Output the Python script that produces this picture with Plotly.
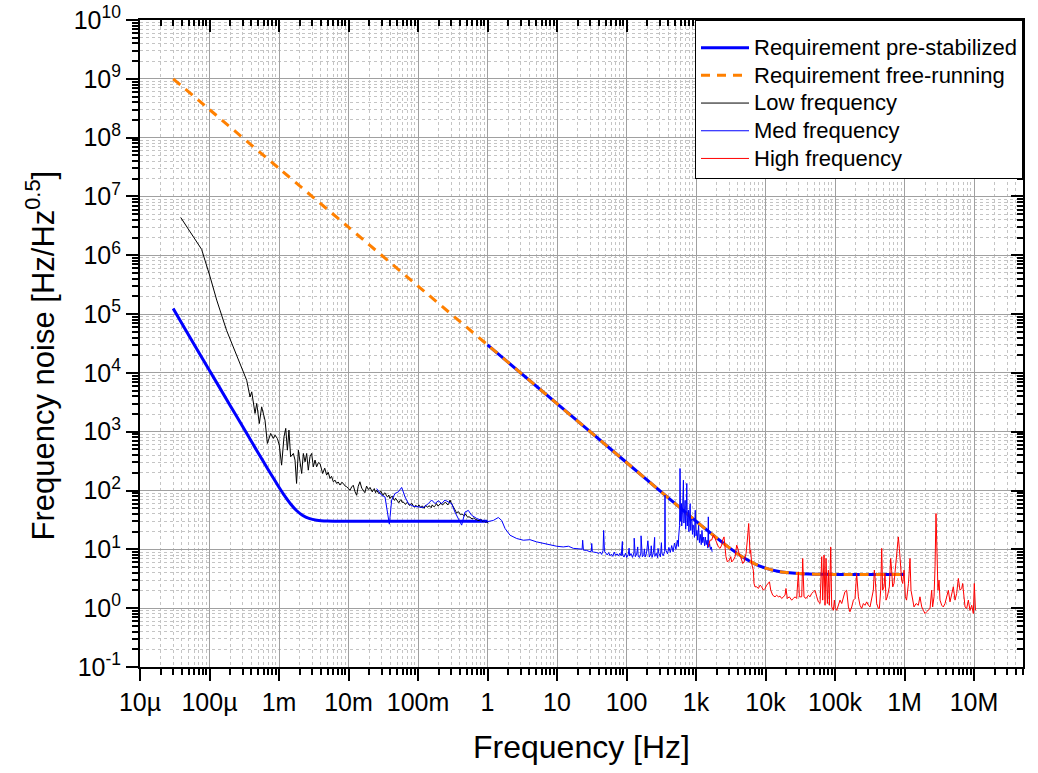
import plotly.graph_objects as go

# ---------------- data ----------------
req_pre_f = [3e-5, 5e-5, 1e-4, 2e-4, 3e-4, 5e-4, 7e-4, 1e-3, 1.2e-3, 1.5e-3, 1.8e-3,
             2.2e-3, 2.7e-3, 3.5e-3, 5e-3, 7e-3, 1e-2, 1e-1, 1.0,
             None,
             1.0, 10, 100, 300, 600, 1000, 1500, 2000, 3000, 4000, 5000, 7000,
             1e4, 1.5e4, 2e4, 3e4, 5e4, 1e5, 1e6]
req_pre_v = [1.25e5, 4.4e4, 1.1e4, 2750, 1222, 440, 226, 114, 82.1, 57.4, 45.3,
             37.6, 33.6, 31.3, 30.3, 30.1, 30, 30, 30,
             None,
             3e4, 3000, 300, 100, 50.1, 30.2, 20.35, 15.5, 10.7, 8.38, 7.07, 5.69,
             4.8, 4.24, 4.03, 3.87, 3.79, 3.75, 3.74]

req_free_f = [3e-5, 1e-4, 1e-3, 1e-2, 1e-1, 1.0, 10, 100, 300, 600, 1000, 1500, 2000,
              3000, 4000, 5000, 7000, 1e4, 1.5e4, 2e4, 3e4, 5e4, 1e5, 1e6]
req_free_v = [1e9, 3e8, 3e7, 3e6, 3e5, 3e4, 3000, 300, 100, 50.1, 30.2, 20.35, 15.5,
              10.7, 8.38, 7.07, 5.69, 4.8, 4.24, 4.03, 3.87, 3.79, 3.75, 3.74]

low_f = [3.85e-5, 7.7e-5, 1.02e-4, 1.27e-4, 1.76e-4, 2.75e-4, 3.43e-4, 3.83e-4,
         4.05e-4, 4.52e-4, 4.78e-4, 5.21e-4, 5.63e-4, 6.29e-4, 6.8e-4, 7.59e-4,
         8.28e-4, 8.75e-4, 9.46e-4, 1.01e-3, 1.09e-3, 1.18e-3, 1.25e-3, 1.32e-3,
         1.39e-3, 1.47e-3, 1.61e-3, 1.70e-3, 1.79e-3, 1.90e-3, 2.0e-3, 2.12e-3,
         2.24e-3, 2.37e-3, 2.5e-3, 2.64e-3, 2.79e-3, 2.95e-3, 3.12e-3, 3.3e-3,
         3.48e-3, 3.7e-3, 3.89e-3, 4.05e-3, 4.25e-3, 4.55e-3, 4.85e-3, 5.1e-3,
         5.42e-3, 5.7e-3, 6.05e-3, 6.4e-3, 6.76e-3, 7.1e-3, 7.55e-3, 8.0e-3,
         8.42e-3, 8.9e-3, 9.4e-3, 1.0e-2, 1.05e-2, 1.11e-2, 1.17e-2, 1.24e-2,
         1.31e-2, 1.38e-2, 1.46e-2, 1.55e-2, 1.63e-2, 1.72e-2, 1.82e-2, 1.93e-2,
         2.04e-2, 2.12e-2, 2.2e-2, 2.28e-2, 2.35e-2, 2.45e-2, 2.54e-2, 2.65e-2,
         2.75e-2, 2.85e-2, 2.95e-2, 3.06e-2, 3.17e-2, 3.28e-2, 3.4e-2, 3.52e-2,
         3.65e-2, 3.8e-2, 3.95e-2, 4.1e-2, 4.3e-2, 4.45e-2, 4.6e-2, 4.75e-2,
         4.93e-2, 5.1e-2, 5.3e-2, 5.5e-2, 5.7e-2, 5.9e-2, 6.15e-2, 6.4e-2,
         6.6e-2, 6.85e-2, 7.1e-2, 7.4e-2, 7.67e-2, 7.9e-2, 8.2e-2, 8.55e-2,
         8.9e-2, 9.2e-2, 9.57e-2, 0.099, 0.103, 0.107, 0.11, 0.115, 0.119, 0.123,
         0.128, 0.133, 0.138, 0.143, 0.149, 0.155, 0.16, 0.166, 0.172, 0.178,
         0.185, 0.192, 0.2, 0.207, 0.215, 0.223, 0.231, 0.24, 0.25, 0.26, 0.27,
         0.28, 0.289, 0.297, 0.305, 0.313, 0.322, 0.331, 0.34, 0.35, 0.36, 0.37,
         0.38, 0.395, 0.41, 0.43, 0.449, 0.465, 0.48, 0.5, 0.52, 0.54, 0.56, 0.58,
         0.6, 0.625, 0.65, 0.675, 0.70, 0.73, 0.76, 0.79, 0.82, 0.845, 0.87, 0.9,
         0.94, 0.98, 1.03]
low_v = [4.4e6, 1.26e6, 4.3e5, 1.73e5, 5.3e4, 1.45e4, 7.5e3, 3.9e3,
         4770, 2050, 3030, 1380, 2650, 1570, 632, 935,
         769, 876, 769, 592, 270, 820, 1140, 486,
         1065, 375, 427, 329, 132, 486, 329, 195,
         427, 308, 427, 222, 375, 427, 253, 330,
         253, 300, 288, 230, 195, 240, 183, 205,
         160, 175, 141, 150, 132, 140, 124, 138,
         132, 120, 116, 108, 101, 115, 123, 96,
         83, 118, 141, 110, 101, 92, 119, 104,
         113, 99, 95, 104, 108, 92, 101, 94,
         88, 95, 97, 86, 83, 91, 90, 81,
         78, 84, 73, 78, 80, 71, 68, 74,
         69, 65, 62, 67, 70, 63, 64, 60,
         58, 62, 63, 57, 56, 59, 60, 55,
         52, 56, 54, 53, 57, 54, 51, 55, 53, 50,
         56, 53, 52, 55, 54, 51, 57, 54, 53, 56,
         60, 55, 56, 59, 61, 57, 58, 62, 63, 59, 57,
         61, 69, 63, 60, 56, 53, 49, 47, 44, 41, 43,
         44, 41, 39, 40, 38, 37, 40, 37, 35, 36, 35, 34,
         33, 34, 34, 32, 32, 31, 31, 32, 32, 30, 30.5, 30,
         29, 29.5, 28]

med_f = [2.54e-2, 3.0e-2, 3.35e-2, 3.87e-2, 4.18e-2, 4.67e-2, 5.21e-2, 5.82e-2,
         6.5e-2, 7.26e-2, 8.57e-2, 0.101, 0.119, 0.141, 0.157, 0.176, 0.196,
         0.219, 0.244, 0.273, 0.305, 0.34, 0.38, 0.425, 0.474, 0.53, 0.59, 0.70,
         0.82, 0.97, 1.21, 1.43, 1.60, 1.79, 2.11, 2.63, 3.28, 4.09, 5.1, 6.35,
         7.9, 9.9, 12.3, 14.6, 17.2, 19.5, 21.4, 23.0, 23.4, 24.0, 26.8, 29.8,
         31.2, 31.6, 32.2, 33.5, 37.4, 40, 41.9, 43.9, 46, 46.9, 48.2, 50.5,
         52.9, 55.4, 58, 60.7, 63.6, 66.6, 69.8, 73.1, 76.6, 80.2, 84, 87.2, 88,
         92.2, 96.6, 101, 106, 109, 111, 116, 122, 128, 129, 134, 140, 145, 147,
         154, 161, 162, 169, 177, 181, 185, 194, 203, 213, 223, 227, 233, 244,
         254, 256, 268, 281, 284, 294, 308, 318, 323, 338, 354, 358, 362, 371,
         389, 407, 427, 447, 468, 490, 514, 538, 557, 563, 580, 589, 600, 618,
         623, 640, 659, 670, 680, 697, 710, 720, 737, 750, 760, 779, 790, 800,
         824, 840, 850, 872, 890, 900, 922, 950, 975, 1000, 1031, 1060, 1090,
         1120, 1153, 1190, 1219, 1250, 1289, 1330, 1363, 1400, 1442, 1480, 1504,
         1525, 1570, 1613, 1660, 1705]
med_v = [108, 83, 78, 26.8, 69, 89, 95, 113,
         78, 60, 54, 53, 51.5, 60, 69, 60, 67,
         60, 69, 64, 60, 43, 33.5, 25.8, 43, 46, 38, 33.5,
         31.3, 29.4, 31, 34.8, 31, 22.6, 17.4, 15.3, 14.3, 14.6, 13.4, 12.6,
         11.8, 11.3, 11.0, 11.3, 10.4, 10.2, 10.0, 10.1, 14.3, 9.7, 9.6, 9.1,
         9.3, 12.6, 9.2, 9.0, 8.8, 8.5, 9.0, 8.2, 9.5, 21, 9.3, 8.4,
         8.0, 8.8, 7.8, 8.3, 7.6, 9.0, 7.9, 8.4, 7.7, 8.6, 7.8, 13.6, 8.0,
         7.4, 8.6, 7.3, 8.2, 10.5, 7.7, 8.5, 7.3, 8.8, 15.5, 7.5, 8.3, 11.0, 7.6,
         7.3, 8.7, 17.0, 7.5, 8.1, 10.2, 7.4, 8.6, 14.0, 7.4, 8.4, 11.5, 7.3, 8.8,
         16.0, 7.6, 8.6, 7.2, 10.4, 8.5, 7.5, 13.0, 8.7, 7.8, 9.2, 83.5, 10.5, 9.5,
         8.4, 10.8, 8.9, 11.6, 9.1, 12.8, 10.0, 14.3, 11.2, 16.2, 25.6, 237, 30, 60,
         25, 46, 150, 28, 40, 68, 22, 33, 132, 25, 35, 46.3, 20, 28,
         60, 21, 30, 33, 18, 26, 25.6, 16, 46.3, 17, 21, 14.3, 25.6,
         13, 18, 12, 21, 13, 16.2, 11.5, 16.2, 12, 14.3, 10.5, 35.7,
         11.0, 12.5, 10.0, 11.0, 9.1]

high_f = [1500, 1590, 1680, 1780, 1880, 1990, 2100, 2220, 2340, 2420, 2530, 2700,
          2830, 3020, 3160, 3260, 3450, 3650, 3850, 4070, 4210, 4400, 4700, 4910,
          5250, 5480, 5730, 5990, 6120, 6320, 6680, 6840, 7060, 7470, 7890, 8340,
          8810, 9310, 9840, 1.04e4, 1.10e4, 1.14e4, 1.19e4, 1.27e4, 1.37e4,
          1.45e4, 1.53e4, 1.62e4, 1.71e4, 1.81e4, 1.91e4, 1.97e4, 2.06e4, 2.20e4,
          2.38e4, 2.52e4, 2.66e4, 2.81e4, 2.97e4, 3.07e4, 3.32e4, 3.43e4, 3.58e4,
          3.83e4, 4.14e4, 4.37e4, 4.62e4, 4.89e4, 5.16e4, 5.46e4, 5.77e4, 6.10e4,
          6.44e4, 6.65e4, 6.95e4, 7.19e4, 7.43e4, 7.77e4, 8.03e4, 8.30e4, 8.67e4,
          8.97e4, 9.47e4, 9.79e4, 1.01e5, 1.06e5, 1.12e5, 1.18e5, 1.25e5, 1.32e5,
          1.39e5, 1.47e5, 1.56e5, 1.64e5, 1.74e5, 1.84e5, 1.94e5, 2.05e5, 2.17e5,
          2.29e5, 2.42e5, 2.56e5, 2.70e5, 2.86e5, 3.02e5, 3.19e5, 3.37e5, 3.56e5,
          3.68e5, 3.80e5, 3.98e5, 4.21e5, 4.35e5, 4.54e5, 4.70e5, 4.85e5, 5.07e5,
          5.24e5, 5.42e5, 5.66e5, 6.05e5, 6.32e5, 6.53e5, 6.76e5, 7.06e5, 7.30e5,
          7.71e5, 8.15e5, 8.43e5, 8.81e5, 9.10e5, 9.42e5, 9.84e5, 1.03e6, 1.07e6,
          1.14e6, 1.20e6, 1.24e6, 1.31e6, 1.37e6, 1.47e6, 1.58e6, 1.67e6, 1.77e6,
          1.87e6, 1.97e6, 2.08e6, 2.20e6, 2.33e6, 2.46e6, 2.54e6, 2.66e6, 2.75e6,
          2.84e6, 2.94e6, 3.03e6, 3.14e6, 3.24e6, 3.43e6, 3.62e6, 3.83e6, 4.04e6,
          4.27e6, 4.52e6, 4.77e6, 5.04e6, 5.33e6, 5.63e6, 5.95e6, 6.29e6, 6.65e6,
          6.87e6, 7.18e6, 7.43e6, 7.85e6, 8.29e6, 8.76e6, 9.27e6, 9.78e6, 1.01e7,
          1.05e7]
high_v = [11, 14.3, 14.4, 17.5, 15.3, 12.6, 11, 10.4, 11.8, 14.4, 16.3, 7.5,
          6.1, 6.6, 7.5, 6.1, 6.6, 7.5, 11.8, 9.7, 8.0, 7.5, 5.75, 6.1,
          8.5, 14.4, 27.5, 8.5, 9.7, 5.75, 4.43, 2.63, 2.31, 2.31, 2.16, 2.46,
          2.31, 2.02, 2.16, 2.46, 2.63, 2.81, 2.02, 1.66, 1.56,
          1.66, 1.56, 1.6, 1.46, 1.56, 1.66, 2.16, 1.46, 1.56,
          1.37, 1.46, 1.56, 1.46, 4.15, 1.56, 1.56, 7.0, 1.56,
          1.46, 1.66, 1.56, 1.78, 1.9, 2.02, 1.56, 1.28, 1.2,
          7.5, 1.37, 8.0, 1.12, 7.0, 1.2, 4.43, 1.12, 11.0,
          1.05, 0.92, 1.37, 0.99, 0.92, 1.2, 1.37, 1.2, 1.56,
          1.9, 2.02, 1.05, 0.87, 1.05, 1.37, 1.46, 3.89, 1.56,
          1.12, 0.99, 1.2, 1.12, 1.28, 1.12, 1.05, 1.37, 2.02,
          4.43, 2.99, 1.2, 0.99, 0.99, 2.02, 10.4, 2.02, 2.31,
          3.89, 1.37, 1.56, 2.31, 7.0, 4.43, 2.31, 2.63, 3.89,
          7.5, 16.3, 10.4, 4.43, 2.99, 2.63, 4.43, 1.56, 1.37,
          2.63, 7.0, 2.02, 1.37, 1.05, 1.2, 1.12, 1.56, 1.05,
          0.92, 0.81, 0.87, 0.92, 0.99, 2.02, 1.05, 1.56, 5.05,
          40.7, 3.89, 2.02, 2.99, 1.37, 1.12, 1.05, 1.2, 1.56,
          2.02, 1.28, 1.78, 2.31, 1.37, 1.78, 3.2, 2.02, 2.16,
          2.63, 1.56, 1.05, 0.99, 1.37, 0.92, 1.12, 0.81, 2.63,
          0.92]

x_tick_vals = [1e-5, 1e-4, 1e-3, 1e-2, 1e-1, 1, 10, 100, 1e3, 1e4, 1e5, 1e6, 1e7]
x_tick_text = ["10µ", "100µ", "1m", "10m", "100m", "1", "10", "100", "1k", "10k",
               "100k", "1M", "10M"]
y_exponents = list(range(-1, 11))
series_names = ["Requirement pre-stabilized", "Requirement free-running",
                "Low frequency", "Med frequency", "High frequency"]

# ---------------- figure ----------------
FONT = "Liberation Sans, Arial, sans-serif"
y_tick_vals = [10.0 ** e for e in y_exponents]
y_tick_text = ["10<sup>%d</sup>" % e for e in y_exponents]
x_minor = [m * 10.0 ** k for k in range(-6, 8) for m in range(2, 10)]
y_minor = [m * 10.0 ** k for k in range(-2, 11) for m in range(2, 10)]
XR = [-5, 7.705]
YR = [-1, 10]


def leg(name):
    return '<span style="font-size:22px">%s</span>' % name


fig = go.Figure()
fig.add_trace(go.Scatter(x=req_pre_f, y=req_pre_v, mode="lines", name=leg(series_names[0]),
                         line=dict(color="#0000ff", width=3, shape="spline", smoothing=0.6)))
fig.add_trace(go.Scatter(x=req_free_f, y=req_free_v, mode="lines", name=leg(series_names[1]),
                         line=dict(color="#ff8000", width=3, dash="9px,7px",
                                   shape="spline", smoothing=0.6)))
fig.add_trace(go.Scatter(x=low_f, y=low_v, mode="lines", name=leg(series_names[2]),
                         line=dict(color="#000000", width=1)))
fig.add_trace(go.Scatter(x=med_f, y=med_v, mode="lines", name=leg(series_names[3]),
                         line=dict(color="#0000ff", width=1)))
fig.add_trace(go.Scatter(x=high_f, y=high_v, mode="lines", name=leg(series_names[4]),
                         line=dict(color="#ff0000", width=1)))
# helper trace for the mirrored (top/right) axes
fig.add_trace(go.Scatter(x=[1e-5], y=[1e-1], xaxis="x2", yaxis="y2", mode="markers",
                         marker=dict(opacity=0), showlegend=False, hoverinfo="skip"))

axis_common = dict(type="log", showline=True, linecolor="black", linewidth=2,
                   zeroline=False, ticks="outside", ticklen=12, tickwidth=2,
                   tickcolor="black", automargin=False,
                   tickfont=dict(family=FONT, size=25, color="black"),
                   showgrid=True, gridcolor="#a0a0a0", gridwidth=1)
minor_common = dict(tickmode="array", ticks="outside", ticklen=6, tickwidth=2,
                    tickcolor="black", showgrid=True, gridcolor="#c4c4c4",
                    griddash="3px,3px", gridwidth=1)

fig.update_layout(
    width=1038, height=773,
    margin=dict(l=140, r=15, t=20, b=106),
    paper_bgcolor="white", plot_bgcolor="white",
    font=dict(family=FONT, color="black"),
    showlegend=True,
    xaxis=dict(axis_common, range=XR, tickmode="array", tickvals=x_tick_vals,
               ticktext=x_tick_text, minor=dict(minor_common, tickvals=x_minor),
               title=dict(text="Frequency [Hz]", font=dict(family=FONT, size=32),
                          standoff=21)),
    yaxis=dict(axis_common, range=YR, tickmode="array", tickvals=y_tick_vals,
               ticktext=y_tick_text, minor=dict(minor_common, tickvals=y_minor)),
    xaxis2=dict(type="log", range=XR, overlaying="x", side="top", anchor="y2",
                showline=True, linecolor="black", linewidth=2, showgrid=False,
                zeroline=False, showticklabels=False, ticks="inside", ticklen=12,
                tickwidth=2, tickcolor="black", tickmode="array", tickvals=x_tick_vals,
                automargin=False,
                minor=dict(tickmode="array", tickvals=x_minor, ticks="inside",
                           ticklen=6, tickwidth=2, tickcolor="black", showgrid=False)),
    yaxis2=dict(type="log", range=YR, overlaying="y", side="right", anchor="x2",
                showline=True, linecolor="black", linewidth=2, showgrid=False,
                zeroline=False, showticklabels=False, ticks="inside", ticklen=12,
                tickwidth=2, tickcolor="black", tickmode="array", tickvals=y_tick_vals,
                automargin=False,
                minor=dict(tickmode="array", tickvals=y_minor, ticks="inside",
                           ticklen=6, tickwidth=2, tickcolor="black", showgrid=False)),
    legend=dict(x=1, y=1, xanchor="right", yanchor="top", bgcolor="white",
                bordercolor="black", borderwidth=1,
                font=dict(family=FONT, size=19, color="black"),
                title=dict(text=" ", font=dict(size=6)),
                tracegroupgap=0, itemwidth=48),
    annotations=[dict(text="Frequency noise [Hz/Hz<sup>0.5</sup>]", textangle=-90,
                      xref="paper", yref="paper", x=0, y=0.5, xshift=-100, yshift=-12,
                      showarrow=False, xanchor="center", yanchor="middle",
                      font=dict(family=FONT, size=31, color="black"))],
)

fig.write_html("out.html", config={"displayModeBar": False},
               post_script="document.body.style.margin='0px';document.body.style.padding='0px';")
